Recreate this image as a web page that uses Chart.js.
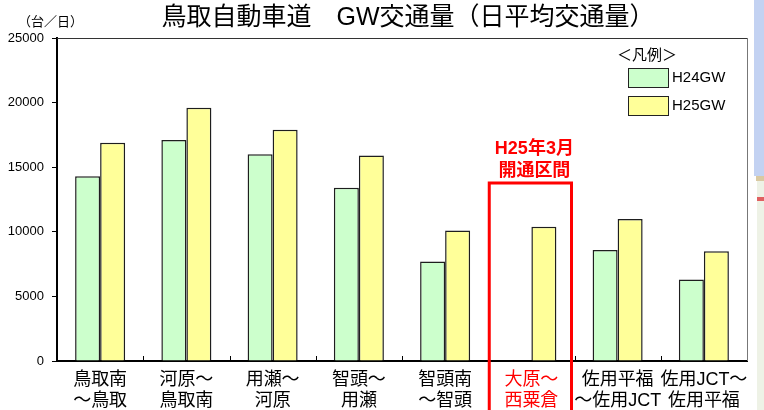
<!DOCTYPE html>
<html>
<head>
<meta charset="utf-8">
<script src="https://cdn.jsdelivr.net/npm/chart.js@4/dist/chart.umd.min.js"></script>
<style>
  html, body { margin: 0; padding: 0; background: #fff; }
  #wrap { width: 764px; height: 410px; position: relative; }
</style>
</head>
<body>
<div id="wrap"><canvas id="c" width="764" height="410"></canvas></div>
<script>
// sections (two-line labels)
const sections = [
    ['鳥取南', '～鳥取'],
    ['河原～', '鳥取南'],
    ['用瀬～', '河原'],
    ['智頭～', '用瀬'],
    ['智頭南', '～智頭'],
    ['大原～', '西粟倉'],
    ['佐用平福', '～佐用JCT'],
    ['佐用JCT～', '佐用平福']
];
const h24 = [14300, 17100, 16000, 13400, 7700, null, 8600, 6300];
const h25 = [16900, 19600, 17900, 15900, 10100, 10400, 11000, 8500];
const yTicks = [0, 5000, 10000, 15000, 20000, 25000];
const newSection = 5; // H25年3月 開通区間

const FONT = "'Liberation Sans', 'Noto Sans CJK JP', sans-serif";
const RED = '#ff0000';

const extras = {
    id: 'extras',
    afterDraw(chart) {
        const ctx = chart.ctx;
        const area = chart.chartArea;
        const x = chart.scales.x;
        const catW = (area.right - area.left) / sections.length;
        ctx.save();

        // thin frame on top / right
        ctx.lineWidth = 1;
        ctx.strokeStyle = '#333';
        ctx.beginPath();
        ctx.moveTo(area.left, area.top + 0.5);
        ctx.lineTo(area.right, area.top + 0.5);
        ctx.stroke();
        ctx.strokeStyle = '#777';
        ctx.beginPath();
        ctx.moveTo(area.right + 0.5, area.top);
        ctx.lineTo(area.right + 0.5, area.bottom);
        ctx.stroke();

        // small inward ticks on category boundaries
        ctx.strokeStyle = '#000';
        for (let i = 1; i < sections.length; i++) {
            const bx = Math.round(area.left + i * catW) + 0.5;
            ctx.beginPath();
            ctx.moveTo(bx, area.bottom);
            ctx.lineTo(bx, area.bottom - 5);
            ctx.stroke();
        }

        // title
        ctx.fillStyle = '#000';
        ctx.textAlign = 'center';
        ctx.textBaseline = 'middle';
        ctx.font = '25px ' + FONT;
        ctx.fillText('鳥取自動車道　GW交通量（日平均交通量）', 408, 18);

        // unit
        ctx.font = '13px ' + FONT;
        ctx.textAlign = 'left';
        ctx.fillText('（台／日）', 18, 22);

        // legend
        ctx.font = '15px ' + FONT;
        ctx.textAlign = 'left';
        ctx.fillText('＜凡例＞', 617, 56);
        const items = [['H24GW', '#ccffcc', 77], ['H25GW', '#ffff99', 105]];
        items.forEach(([name, col, cy]) => {
            ctx.fillStyle = col;
            ctx.fillRect(628, cy - 9, 40, 19);
            ctx.strokeStyle = '#222';
            ctx.lineWidth = 1;
            ctx.strokeRect(628.5, cy - 8.5, 40, 19);
            ctx.fillStyle = '#000';
            ctx.fillText(name, 672, cy + 1);
        });

        // new section frame
        const cx = x.getPixelForValue(newSection);
        const left = cx - catW / 2 + 1;
        const right = cx + catW / 2 - 3;
        ctx.strokeStyle = RED;
        ctx.lineWidth = 3;
        ctx.beginPath();
        ctx.moveTo(left, 412);
        ctx.lineTo(left, 183);
        ctx.lineTo(right, 183);
        ctx.lineTo(right, 412);
        ctx.stroke();
        ctx.fillStyle = RED;
        ctx.textAlign = 'center';
        ctx.font = 'bold 18px ' + FONT;
        ctx.fillText('H25年3月', cx + 3, 149);
        ctx.fillText('開通区間', cx + 3, 171);

        // edge of neighbouring picture on the right
        ctx.fillStyle = '#c3d2f2';
        ctx.fillRect(754, 0, 10, 176);
        ctx.fillStyle = '#d9c9a2';
        ctx.fillRect(756, 176, 8, 5);
        ctx.fillStyle = '#eef2e6';
        ctx.fillRect(757, 181, 7, 229);
        ctx.fillStyle = '#e06060';
        ctx.fillRect(757, 197, 7, 4);
        ctx.restore();
    }
};

new Chart(document.getElementById('c'), {
    type: 'bar',
    data: {
        labels: sections,
        datasets: [
            { label: 'H24GW', data: h24, backgroundColor: '#ccffcc', borderColor: '#1e1e1e', borderWidth: 1.5 },
            { label: 'H25GW', data: h25, backgroundColor: '#ffff99', borderColor: '#1e1e1e', borderWidth: 1.5 }
        ]
    },
    options: {
        responsive: false,
        animation: false,
        events: [],
        layout: { padding: { left: 0, right: 17, top: 38, bottom: 0 } },
        datasets: { bar: { categoryPercentage: 0.58, barPercentage: 1.0 } },
        plugins: { legend: { display: false }, title: { display: false }, tooltip: { enabled: false } },
        scales: {
            x: {
                afterFit(scale) { scale.height = 49; },
                grid: { display: false },
                border: { display: true, color: '#000', width: 2 },
                ticks: {
                    autoSkip: false,
                    maxRotation: 0,
                    padding: 0,
                    font: { family: FONT, size: 18, lineHeight: 1.2 },
                    color: (c) => c.index === newSection ? RED : '#000'
                }
            },
            y: {
                min: 0,
                max: 25000,
                afterFit(scale) { scale.width = 57; },
                afterBuildTicks(scale) { scale.ticks = yTicks.map(v => ({ value: v })); },
                grid: { drawOnChartArea: false, drawTicks: true, tickLength: 5, color: '#000' },
                border: { display: true, color: '#000', width: 2 },
                ticks: {
                    padding: 8,
                    font: { family: FONT, size: 13 },
                    color: '#000',
                    callback: (v) => String(v)
                }
            }
        }
    },
    plugins: [extras]
});
</script>
</body>
</html>
